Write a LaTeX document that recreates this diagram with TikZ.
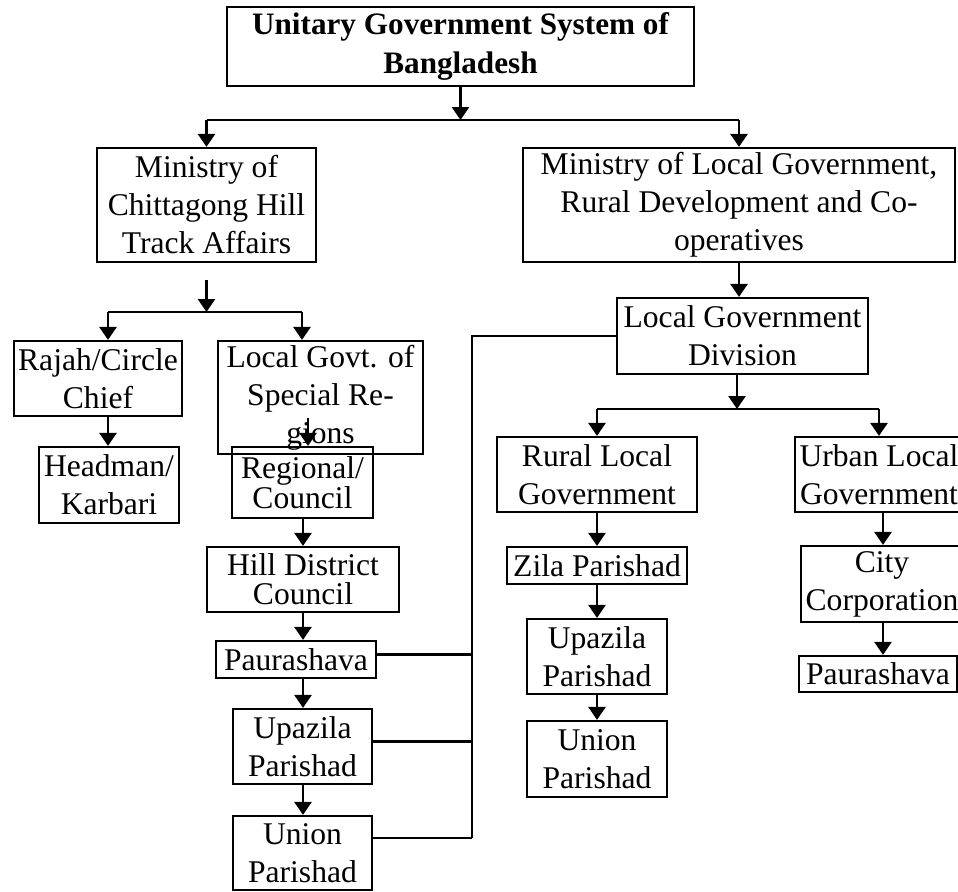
\documentclass[tikz,border=0pt]{standalone}
\usepackage{fontspec}
\setmainfont{Liberation Serif}
\usetikzlibrary{arrows.meta,positioning}

\tikzset{
  box/.style={draw, line width=1.1pt, inner sep=0pt, align=center,
    font=\fontsize{15.8}{19}\selectfont},
  arr/.style={-{Triangle[length=6.5pt,width=8.5pt]}, line width=1.3pt},
  link/.style={line width=1.3pt}
}

\begin{document}
\begin{tikzpicture}[x=0.5pt,y=-0.5pt]
    \useasboundingbox (0,0) rectangle (958,891);

    % top level
    \node[box, minimum width=233.5pt, minimum height=39.5pt,
      font=\fontsize{15.6}{19.5}\selectfont\bfseries] (top) at (460.5,46.5)
      {Unitary Government System of\\Bangladesh};
    \node[box, minimum width=109.5pt, minimum height=57pt] (cht) at (206.5,205)
      {Ministry of\\Chittagong Hill\\Track Affairs};
    \node[box, minimum width=216pt, minimum height=57pt] (mlg) at (739,205)
      {Ministry of Local Government,\\Rural Development and Co-\\operatives};

    % hill tracts side
    \node[box, minimum width=84pt, minimum height=37.5pt] (rajah) at (98,378.5)
      {Rajah/Circle\\Chief};
    \node[box, minimum width=102.5pt, minimum height=56.5pt] (lgsr) at (320.5,397.5)
      {Local Govt. of\\Special Re-\\gions};
    \node[box, minimum width=70pt, minimum height=38pt] (head) at (109,485)
      {Headman/\\Karbari};
    \node[box, minimum width=70.5pt, minimum height=35.5pt,
      font=\fontsize{15.8}{15}\selectfont] (reg) at (302.5,482.5)
      {Regional/\\Council};
    \node[box, minimum width=96pt, minimum height=32.5pt,
      font=\fontsize{15.8}{14.5}\selectfont] (hill) at (303,579.5)
      {Hill District\\Council};
    \node[box, minimum width=80pt, minimum height=18.5pt] (paurL) at (296,659.5)
      {Paurashava};
    \node[box, minimum width=69.5pt, minimum height=37.5pt] (upl) at (302.5,746.5)
      {Upazila\\Parishad};
    \node[box, minimum width=69.5pt, minimum height=37pt] (unl) at (302.5,853)
      {Union\\Parishad};

    % local government division side
    \node[box, minimum width=125.5pt, minimum height=38pt] (lgd) at (742.5,336)
      {Local Government\\Division};
    \node[box, minimum width=100pt, minimum height=37.5pt] (rural) at (597,474.5)
      {Rural Local\\Government};
    \node[box, minimum width=90pt, minimum height=18.5pt] (zila) at (597,565.5)
      {Zila Parishad};
    \node[box, minimum width=70pt, minimum height=37.5pt] (upr) at (597,656.5)
      {Upazila\\Parishad};
    \node[box, minimum width=70pt, minimum height=38pt] (unr) at (597,759)
      {Union\\Parishad};
    \node[box, minimum width=84pt, minimum height=37.5pt] (urban) at (879,474.5)
      {Urban Local\\Government};
    \node[box, minimum width=81pt, minimum height=38pt] (city) at (882,584)
      {City\\Corporation};
    \node[box, minimum width=79pt, minimum height=18pt] (paurR) at (878,674)
      {Paurashava};

    % helper coordinates
    \coordinate (t1) at (460,120);
    \coordinate (t2) at (205,312);
    \coordinate (b1) at (108,312);
    \coordinate (b2) at (302,312);
    \coordinate (t3) at (737,409);
    \coordinate (lspine) at (303,0);
    \coordinate (uspine) at (883,0);
    \coordinate (bus) at (472,838);

    % first split
    \draw[arr] (top.south) -- (top.south |- t1);
    \draw[link] (cht.north |- t1) -- (mlg.north |- t1);
    \draw[arr] (cht.north |- t1) -- (cht.north);
    \draw[arr] (mlg.north |- t1) -- (mlg.north);

    % hill tracts branches
    \draw[arr] ([yshift=-8.5pt]cht.south) -- (cht.south |- t2);
    \draw[link] (b1) -- (b2);
    \draw[arr] (b1) -- (b1 |- rajah.north);
    \draw[arr] (b2) -- (b2 |- lgsr.north);
    \draw[arr] (b1 |- rajah.south) -- (b1 |- head.north);
    \draw[arr] ([xshift=2.75pt]reg.north) ++(0,-28) -- ([xshift=2.75pt]reg.north);
    \foreach \a/\b in {reg/hill,hill/paurL,paurL/upl,upl/unl} {
        \draw[arr] (\a.south -| lspine) -- (\b.north -| lspine);
    }

    % ministry to division
    \draw[arr] (mlg.south) -- (mlg.south |- lgd.north);
    \draw[arr] (lgd.south -| t3) -- (t3);
    \draw[link] (rural.north |- t3) -- (urban.north |- t3);
    \draw[arr] (rural.north |- t3) -- (rural.north);
    \draw[arr] (urban.north |- t3) -- (urban.north);
    \foreach \a/\b in {rural/zila,zila/upr,upr/unr} {
        \draw[arr] (\a.south) -- (\b.north);
    }
    \foreach \a/\b in {urban/city,city/paurR} {
        \draw[arr] (\a.south -| uspine) -- (\b.north -| uspine);
    }

    % division links to hill bodies
    \draw[link] (lgd.west) -| (bus);
    \draw[link] ([yshift=2.5pt]paurL.east) -- ([yshift=2.5pt]paurL.east -| bus);
    \draw[link] ([yshift=2.5pt]upl.east) -- ([yshift=2.5pt]upl.east -| bus);
    \draw[link] ([yshift=7.5pt]unl.east) -- (bus);
\end{tikzpicture}
\end{document}
